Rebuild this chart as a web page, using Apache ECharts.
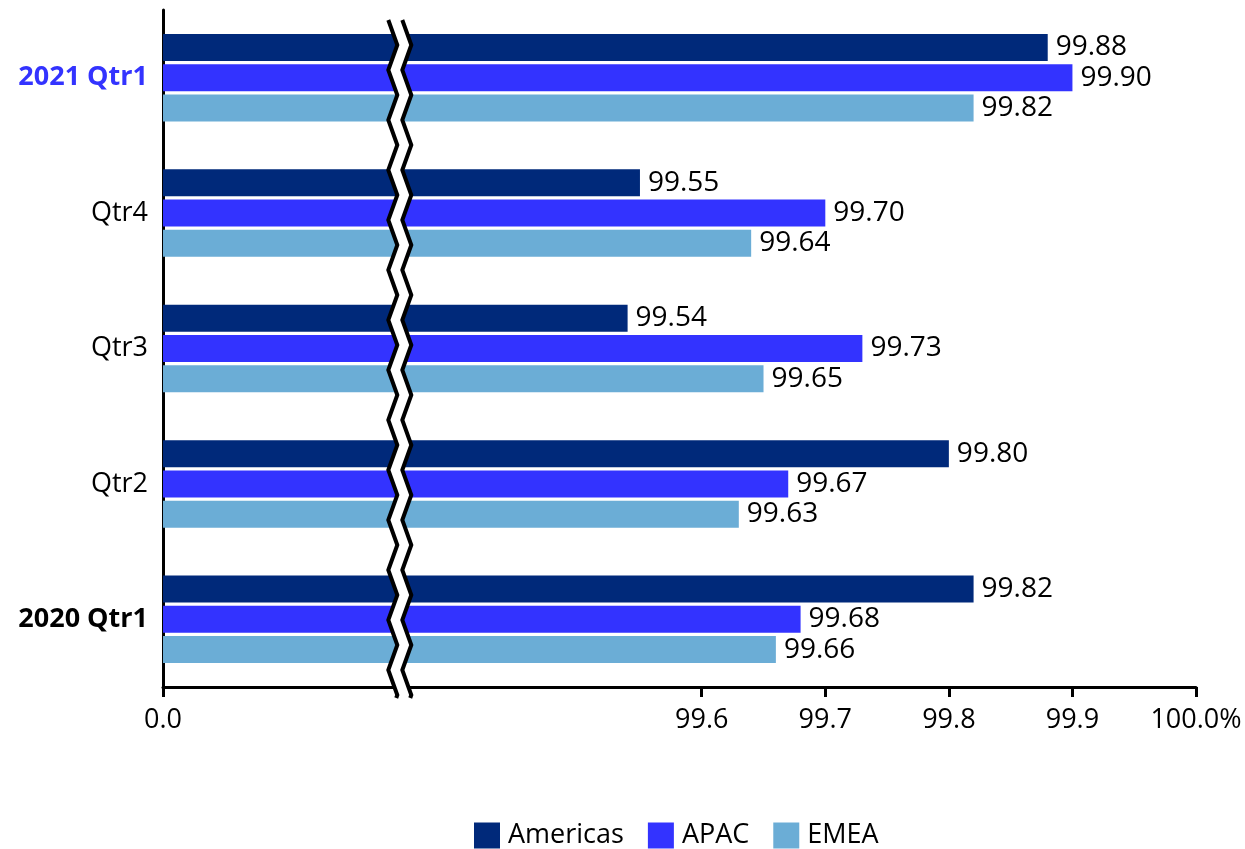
<!DOCTYPE html>
<html style="height: 100%">
<head>
<meta charset="utf-8" />
<title>Availability by region</title>
</head>
<body style="height: 100%; margin: 0">
<div id="container" style="width: 1245px; height: 849px"></div>
<script type="text/javascript" src="https://cdn.jsdelivr.net/npm/echarts@6/dist/echarts.min.js"></script>
<script type="text/javascript">
// categories top to bottom
var quarters = ['2021 Qtr1', 'Qtr4', 'Qtr3', 'Qtr2', '2020 Qtr1'];
var americas = [99.88, 99.55, 99.54, 99.80, 99.82];
var apac = [99.90, 99.70, 99.73, 99.67, 99.68];
var emea = [99.82, 99.64, 99.65, 99.63, 99.66];
var tickValues = [99.6, 99.7, 99.8, 99.9, 100];
// left end of the axis stands for 0.0, the axis is broken after it
var axisStart = 99.164;
var breakAt = 99.352;

var dom = document.getElementById('container');
var myChart = echarts.init(dom);
var font = 'Open Sans';

function barSeries(name, data, color) {
    return {
        name: name,
        type: 'bar',
        data: data,
        barWidth: 27,
        barGap: '12%',
        itemStyle: { color: color },
        label: {
            show: true,
            position: 'right',
            distance: 8,
            color: '#000',
            fontFamily: font,
            fontSize: 28,
            formatter: function (p) { return p.value.toFixed(2); }
        }
    };
}

var option = {
    animation: false,
    textStyle: { fontFamily: font },
    grid: { left: 163, right: 49, top: 10, bottom: 162 },
    legend: {
        left: 474,
        top: 822,
        padding: 0,
        itemWidth: 26,
        itemHeight: 26,
        itemGap: 24,
        icon: 'rect',
        data: ['Americas', 'APAC', 'EMEA'],
        textStyle: { fontFamily: font, fontSize: 27, color: '#000', padding: [0, 0, 0, 3] }
    },
    xAxis: {
        type: 'value',
        min: axisStart,
        max: 100,
        splitLine: { show: false },
        axisLine: { show: true, lineStyle: { color: '#000', width: 3 } },
        axisTick: {
            show: true,
            customValues: [axisStart].concat(tickValues),
            length: 10,
            lineStyle: { color: '#000', width: 3 }
        },
        axisLabel: {
            customValues: [axisStart].concat(tickValues),
            margin: 20,
            color: '#000',
            fontFamily: font,
            fontSize: 27,
            formatter: function (v) {
                if (v < 99.5) return '0.0';
                if (v >= 100) return '100.0%';
                return v.toFixed(1);
            }
        }
    },
    yAxis: {
        type: 'category',
        inverse: true,
        data: quarters,
        axisLine: { show: true, lineStyle: { color: '#000', width: 3 } },
        axisTick: { show: false },
        axisLabel: {
            margin: 15,
            color: '#000',
            fontFamily: font,
            fontSize: 27,
            formatter: function (v, i) {
                if (i === 0) return '{hi|' + v + '}';
                if (i === quarters.length - 1) return '{b|' + v + '}';
                return v;
            },
            rich: {
                hi: { color: '#3333ff', fontWeight: 'bold', fontFamily: font, fontSize: 27 },
                b: { color: '#000', fontWeight: 'bold', fontFamily: font, fontSize: 27 }
            }
        }
    },
    series: [
        barSeries('Americas', americas, '#00297a'),
        barSeries('APAC', apac, '#3333ff'),
        barSeries('EMEA', emea, '#6badd6')
    ]
};

myChart.setOption(option);

// zig-zag break mark across the bars
var xb = myChart.convertToPixel({ xAxisIndex: 0 }, breakAt);
var leftPts = [], rightPts = [];
var y0 = 20, y1 = 698, step = 25;
for (var k = 0, y = y0; y <= y1; k++, y += step) {
    var x = k % 2 ? xb + 2 : xb - 7;
    leftPts.push([x, y]);
    rightPts.push([x + 14, y]);
}
var last = leftPts[leftPts.length - 1];
if (last[1] < y1) {
    var nx = last[0] + (leftPts.length % 2 ? 9 : -9) * (y1 - last[1]) / step;
    leftPts.push([nx, y1]);
    rightPts.push([nx + 14, y1]);
}

myChart.setOption({
    graphic: [
        {
            type: 'polygon',
            z: 100,
            shape: { points: leftPts.concat(rightPts.slice().reverse()) },
            style: { fill: '#fff' }
        },
        {
            type: 'polyline',
            z: 101,
            shape: { points: leftPts },
            style: { stroke: '#000', lineWidth: 4, fill: null }
        },
        {
            type: 'polyline',
            z: 101,
            shape: { points: rightPts },
            style: { stroke: '#000', lineWidth: 4, fill: null }
        }
    ]
});
</script>
</body>
</html>
